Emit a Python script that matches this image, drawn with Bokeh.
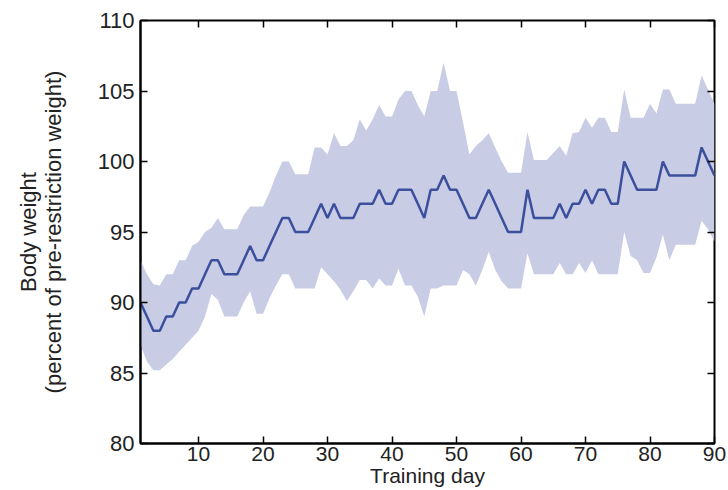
from bokeh.plotting import figure
from bokeh.models import Range1d, LinearAxis, FixedTicker, ColumnDataSource
from bokeh.embed import file_html
from bokeh.resources import INLINE

days = list(range(1, 91))
mean_weight = [90, 89, 88, 88, 89, 89, 90, 90, 91, 91,
               92, 93, 93, 92, 92, 92, 93, 94, 93, 93,
               94, 95, 96, 96, 95, 95, 95, 96, 97, 96,
               97, 96, 96, 96, 97, 97, 97, 98, 97, 97,
               98, 98, 98, 97, 96, 98, 98, 99, 98, 98,
               97, 96, 96, 97, 98, 97, 96, 95, 95, 95,
               98, 96, 96, 96, 96, 97, 96, 97, 97, 98,
               97, 98, 98, 97, 97, 100, 99, 98, 98, 98,
               98, 100, 99, 99, 99, 99, 99, 101, 100, 99]
upper_band = [93, 92, 91.3, 91.2, 92, 92, 93, 93, 94, 94.3,
              95, 95.3, 96, 95.2, 95.2, 95.2, 96.2, 96.8, 96.8, 96.8,
              97.8, 99, 100, 100, 99.1, 99.1, 99.1, 101, 101, 100.5,
              102, 101.1, 101.1, 101.5, 103, 102.2, 103, 104, 103.2, 103.2,
              104.4, 105, 105, 104, 103.2, 105, 105, 107, 105, 105,
              102.8, 100.5, 101.1, 101.5, 102, 101, 100, 99.2, 99.2, 99.2,
              102.1, 100.1, 100.1, 100.1, 100.6, 101.1, 100.4, 102, 102.1, 103.1,
              102.4, 103.1, 103.1, 102.1, 102.1, 105.1, 103.1, 103.1, 103.1, 104.1,
              103.4, 105.1, 105.1, 104.1, 104.1, 104.1, 104.1, 106.1, 105.1, 104.1]
lower_band = [87, 85.8, 85.2, 85.2, 85.6, 86, 86.5, 87, 87.5, 88,
              89, 90.6, 90.2, 89, 89, 89, 90, 90.8, 89.2, 89.2,
              90.3, 91.2, 92, 92, 91, 91, 91, 91, 92.5, 92,
              91.5, 90.9, 90.1, 90.8, 91.6, 91.6, 91, 91.7, 91.2, 91.2,
              92.4, 91.2, 91.2, 90.4, 89, 91, 91, 91.2, 91.2, 91.2,
              92.3, 92, 91.2, 92.3, 93.6, 92.3, 91.5, 91, 91, 91,
              93.5, 92, 92, 92, 92, 92.8, 92, 92, 92.8, 92.1,
              93, 92, 92, 92, 92, 95, 93.3, 93, 92.1, 92.1,
              93.2, 94.8, 93, 94.1, 94.1, 94.1, 94.1, 95.8, 95.2, 94.3]
x_ticks = [10, 20, 30, 40, 50, 60, 70, 80, 90]
y_ticks = [80, 85, 90, 95, 100, 105, 110]
x_label = "Training day"
y_label = "Body weight\n(percent of pre-restriction weight)"

FONT = "Liberation Sans"
TXT = "#222222"

src = ColumnDataSource(dict(day=days, mean=mean_weight, upper=upper_band, lower=lower_band))

p = figure(width=728, height=490, output_backend="svg", toolbar_location=None,
           x_range=Range1d(1, 90), y_range=Range1d(80, 110),
           min_border_left=140, min_border_right=14, min_border_top=20, min_border_bottom=47)
p.background_fill_color = "white"
p.border_fill_color = "white"
p.xgrid.visible = False
p.ygrid.visible = False
p.outline_line_color = "black"
p.outline_line_width = 2

p.varea(x="day", y1="lower", y2="upper", source=src, fill_color="#C9CCE5", fill_alpha=1.0)
p.line(x="day", y="mean", source=src, line_color="#3C4F9C", line_width=2.5)

for ax in (p.xaxis[0], p.yaxis[0]):
    ax.major_tick_in = 7
    ax.major_tick_out = 0
    ax.minor_tick_line_color = None
    ax.axis_line_color = "black"
    ax.axis_line_width = 2
    ax.major_tick_line_color = "black"
    ax.major_tick_line_width = 1.5
    ax.major_label_text_font = FONT
    ax.major_label_text_font_size = "22px"
    ax.major_label_text_color = TXT
    ax.axis_label_text_font = FONT
    ax.axis_label_text_font_size = "22px"
    ax.axis_label_text_font_style = "normal"
    ax.axis_label_text_color = TXT

p.xaxis[0].ticker = FixedTicker(ticks=x_ticks)
p.yaxis[0].ticker = FixedTicker(ticks=y_ticks)
p.xaxis[0].major_label_text_font_size = "21px"
p.xaxis[0].axis_label_text_font_size = "21px"
p.xaxis[0].major_label_standoff = 3
p.yaxis[0].major_label_standoff = 6
p.xaxis[0].axis_label = x_label
p.xaxis[0].axis_label_standoff = 0
p.yaxis[0].axis_label = y_label
p.yaxis[0].axis_label_standoff = 29
p.yaxis[0].axis_label_text_line_height = 1.0

top_ax = LinearAxis(ticker=FixedTicker(ticks=x_ticks), major_tick_in=7, major_tick_out=0,
                    minor_tick_line_color=None, axis_line_color=None,
                    major_label_text_font_size="1px", major_label_text_color=None,
                    major_label_standoff=0, major_tick_line_width=1.5)
right_ax = LinearAxis(ticker=FixedTicker(ticks=y_ticks), major_tick_in=7, major_tick_out=0,
                      minor_tick_line_color=None, axis_line_color=None,
                      major_label_text_font_size="1px", major_label_text_color=None,
                      major_label_standoff=0, major_tick_line_width=1.5)
p.add_layout(top_ax, "above")
p.add_layout(right_ax, "right")

open("out.html", "w").write(file_html(p, INLINE))
